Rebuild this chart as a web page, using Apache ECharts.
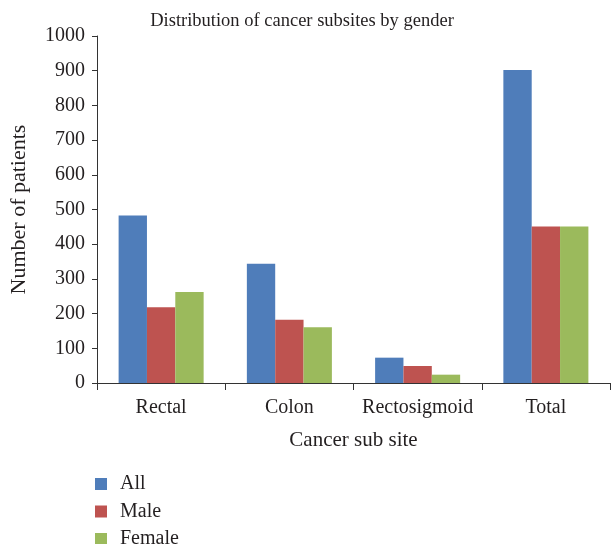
<!DOCTYPE html>
<html>
<head>
<meta charset="utf-8">
<script src="https://cdn.jsdelivr.net/npm/echarts@6/dist/echarts.min.js"></script>
<style>html,body{margin:0;padding:0;background:#fff}#c{width:616px;height:544px}</style>
</head>
<body>
<div id="c"></div>
<script>
const categories = ["Rectal", "Colon", "Rectosigmoid", "Total"];
const allValues = [483, 344, 73, 902];
const maleValues = [218, 182, 49, 451];
const femaleValues = [262, 161, 24, 451];
const seriesNames = ["All", "Male", "Female"];
const colors = ["#4F7DBA", "#BE5350", "#9BBA5C"];

const font = "Liberation Serif";
const txt = "#231F20";
const chart = echarts.init(document.getElementById('c'));
chart.setOption({
  animation: false,
  color: colors,
  title: {
    text: "Distribution of cancer subsites by gender",
    left: 297, top: 7, textAlign: 'center',
    textStyle: {fontFamily: font, fontSize: 18.5, fontWeight: 'normal', color: txt}
  },
  legend: {
    orient: 'vertical', left: 90, top: 469, height: 80,
    icon: 'rect', itemWidth: 12, itemHeight: 12, itemGap: 7.5,
    textStyle: {fontFamily: font, fontSize: 20, color: txt, padding: [0,0,0,8]},
    data: seriesNames
  },
  grid: {left: 94, right: 6, top: 36, bottom: 161},
  xAxis: {
    type: 'category', data: categories,
    name: "Cancer sub site", nameLocation: 'middle', nameGap: 47,
    nameTextStyle: {fontFamily: font, fontSize: 21, color: txt},
    axisLine: {lineStyle: {color: '#333', width: 1}},
    axisTick: {show: true, length: 7, lineStyle: {color: '#333'}},
    axisLabel: {fontFamily: font, fontSize: 20, color: txt, margin: 15, interval: 0}
  },
  yAxis: {
    type: 'value', min: 0, max: 1000, interval: 100,
    name: "Number of patients", nameLocation: 'middle', nameGap: 67,
    nameTextStyle: {fontFamily: font, fontSize: 22, color: txt},
    axisLine: {show: true, lineStyle: {color: '#333', width: 1}},
    axisTick: {show: true, length: 5, lineStyle: {color: '#333'}},
    axisLabel: {fontFamily: font, fontSize: 20, color: txt, margin: 12, formatter: v => String(v)},
    splitLine: {show: false}
  },
  series: [
    {name: seriesNames[0], type: 'bar', data: allValues, barGap: '0%', barCategoryGap: '33.7%'},
    {name: seriesNames[1], type: 'bar', data: maleValues, barGap: '0%', barCategoryGap: '33.7%'},
    {name: seriesNames[2], type: 'bar', data: femaleValues, barGap: '0%', barCategoryGap: '33.7%'}
  ]
});
</script>
</body>
</html>
